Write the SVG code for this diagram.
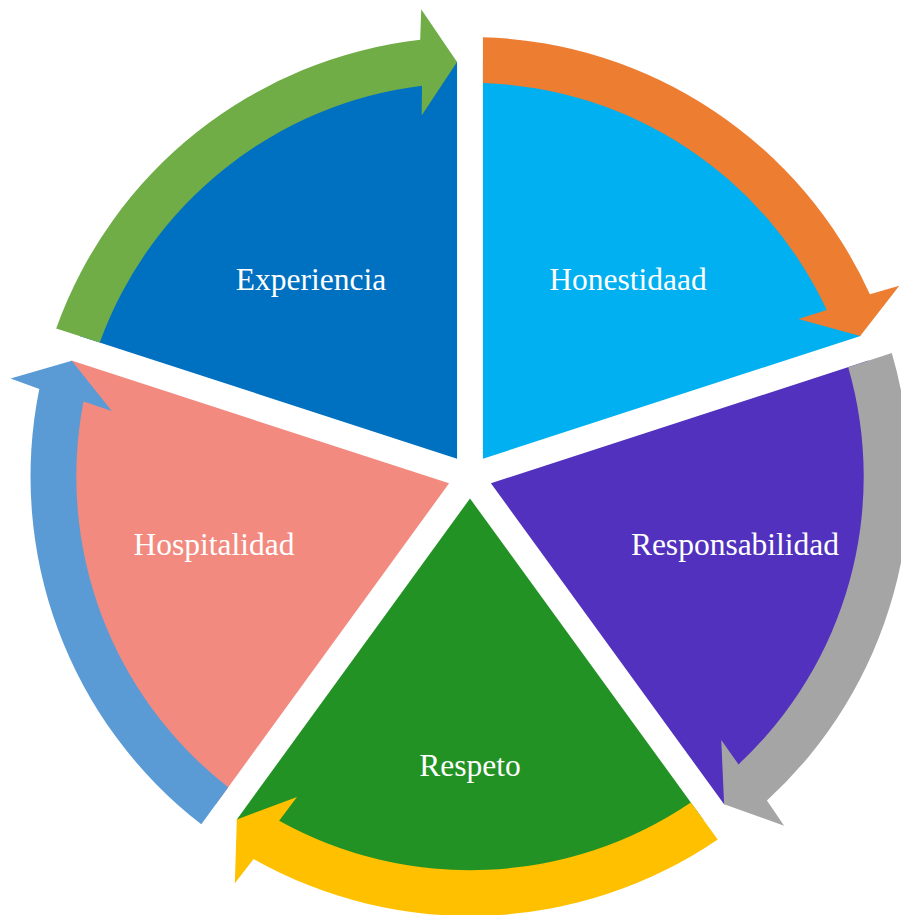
<svg xmlns="http://www.w3.org/2000/svg" xmlns:xlink="http://www.w3.org/1999/xlink" width="901" height="915" viewBox="0 0 901 915">
<style>
.lbl{font-family:"Liberation Serif","Times New Roman",serif;font-size:31.5px;fill:#FFFFFF;text-anchor:middle}
</style>
<defs>
<path id="sector" d="M482.93,458.70 L482.93,61.70 A397,397 0 0 1 860.50,336.02 Z"/>
<path id="arrow" d="M482.93,37.19 A439.5,439.5 0 0 1 869.9,294.2 L899.3,285.7 L860.2,336.1 L798.3,319 L826.8,310.1 A393.7,393.7 0 0 0 482.93,83.01 Z"/>
</defs>
<rect width="901" height="915" fill="#FFFFFF"/>
<g id="node-honestidaad">
<use xlink:href="#sector" fill="#00B0F0"/>
</g>
<g id="node-responsabilidad">
<use xlink:href="#sector" fill="#5131BD" transform="rotate(72 470 476.5)"/>
</g>
<g id="node-respeto">
<use xlink:href="#sector" fill="#229224" transform="rotate(144 470 476.5)"/>
</g>
<g id="node-hospitalidad">
<use xlink:href="#sector" fill="#F28A80" transform="rotate(216 470 476.5)"/>
</g>
<g id="node-experiencia">
<use xlink:href="#sector" fill="#0070C0" transform="rotate(288 470 476.5)"/>
</g>
<g id="connectors">
<use xlink:href="#arrow" fill="#ED7D31"/>
<use xlink:href="#arrow" fill="#A5A5A5" transform="rotate(72 470 476.5)"/>
<use xlink:href="#arrow" fill="#FFC000" transform="rotate(144 470 476.5)"/>
<use xlink:href="#arrow" fill="#5B9BD5" transform="rotate(216 470 476.5)"/>
<use xlink:href="#arrow" fill="#70AD47" transform="rotate(288 470 476.5)"/>
</g>
<g id="labels">
<text class="lbl" x="311" y="290">Experiencia</text>
<text class="lbl" x="628" y="290">Honestidaad</text>
<text class="lbl" x="735" y="554.5">Responsabilidad</text>
<text class="lbl" x="214" y="555">Hospitalidad</text>
<text class="lbl" x="470" y="776">Respeto</text>
</g>
</svg>
